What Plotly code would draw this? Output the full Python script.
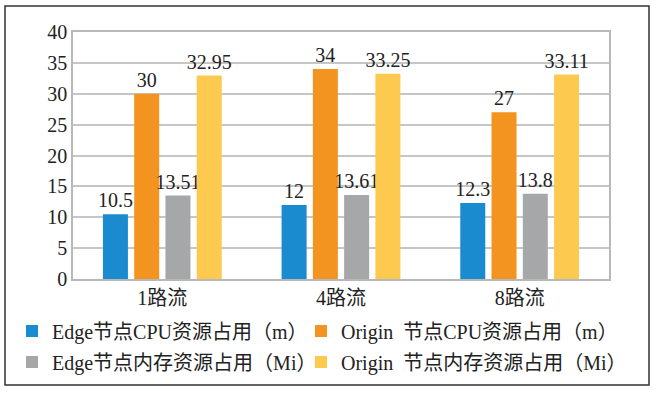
import plotly.graph_objects as go

categories = ["1路流", "4路流", "8路流"]
edge_cpu = [10.5, 12, 12.3]
origin_cpu = [30, 34, 27]
edge_mem = [13.51, 13.61, 13.8]
origin_mem = [32.95, 33.25, 33.11]
series_names = ["Edge节点CPU资源占用（m）", "Origin\u00a0\u00a0节点CPU资源占用（m）",
                "Edge节点内存资源占用（Mi）", "Origin\u00a0\u00a0节点内存资源占用（Mi）"]
series_values = [edge_cpu, origin_cpu, edge_mem, origin_mem]
colors = ["#1b8bcf", "#f39420", "#a6a7a9", "#fdc94e"]
legend_ids = ["legend", "legend2", "legend3", "legend4"]
y_ticks = [0, 5, 10, 15, 20, 25, 30, 35, 40]

FONT = "Liberation Serif, Noto Sans CJK SC, serif"

fig = go.Figure()
for name, vals, col, lg in zip(series_names, series_values, colors, legend_ids):
    fig.add_trace(go.Bar(
        x=categories, y=vals, name=name, marker_color=col,
        marker_line_width=0, legend=lg,
        text=[f"{v:g}" for v in vals], textposition="outside",
        textfont=dict(size=20, color="#222", family=FONT),
        cliponaxis=False, constraintext="none",
    ))

W, H = 657, 394
ml, mr, mt, mb = 73, 48, 32, 115
pw, ph = W - ml - mr, H - mt - mb

def px(x):
    return (x - ml) / pw

def py(y):
    return (H - mb - y) / ph

def leg(x, y):
    return dict(orientation="h", xanchor="left", yanchor="middle",
                x=px(x), y=py(y),
                font=dict(size=20, family=FONT, color="#222"),
                itemwidth=30, bgcolor="rgba(0,0,0,0)")

fig.update_layout(
    width=W, height=H,
    margin=dict(l=ml, r=mr, t=mt, b=mb),
    paper_bgcolor="white", plot_bgcolor="white",
    barmode="group", bargap=0.30, bargroupgap=0.2,
    font=dict(family=FONT, size=18, color="#222"),
    showlegend=True,
    legend=leg(12, 331),
    legend2=leg(301, 331),
    legend3=leg(12, 362),
    legend4=leg(301, 362),
    xaxis=dict(showline=True, linecolor="#b8b8b8", linewidth=1.5, mirror=True,
               tickfont=dict(size=20, family=FONT), ticks=""),
    yaxis=dict(range=[0, 40], tickvals=y_ticks, showgrid=True, gridcolor="#c6c6c6",
               gridwidth=1.5, showline=True, linecolor="#b8b8b8", linewidth=1.5,
               mirror=True, zeroline=False, tickfont=dict(size=20, family=FONT), ticks=""),
    shapes=[dict(type="rect", xref="paper", yref="paper",
                 x0=px(5), x1=px(649), y0=py(385), y1=py(6),
                 line=dict(color="#333", width=1.5), layer="above")],
)

fig.write_html("out.html", config={"displayModeBar": False},
               post_script="document.body.style.margin='0';document.body.style.overflow='hidden';")
